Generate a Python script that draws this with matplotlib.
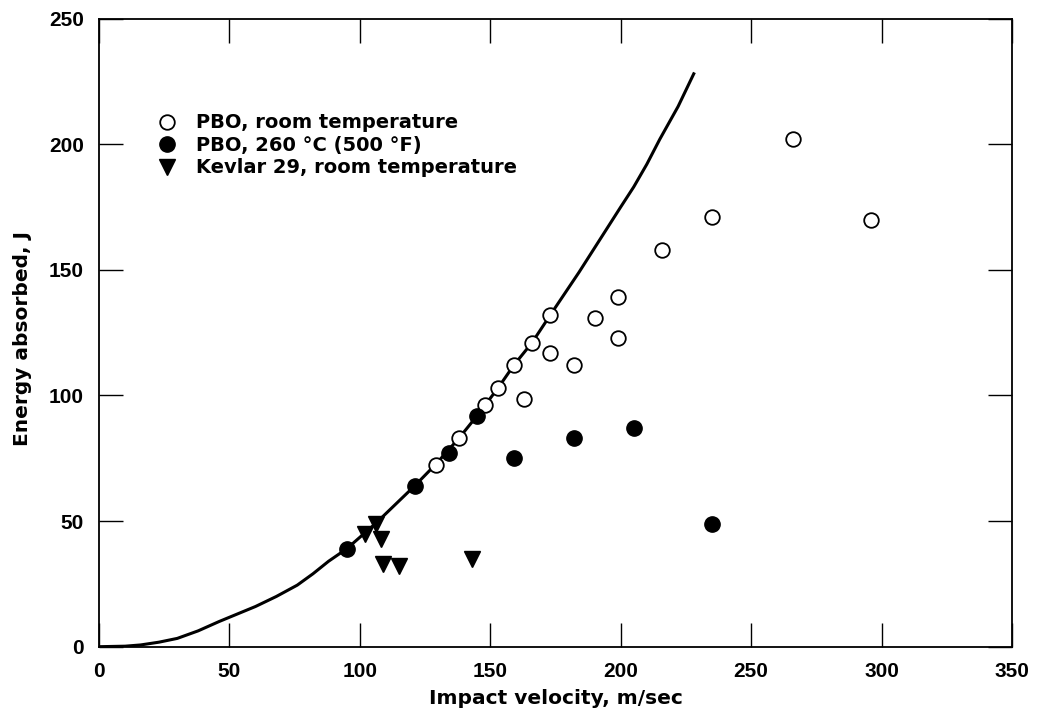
import matplotlib
matplotlib.use("Agg")
import matplotlib.pyplot as plt

plt.rcParams["font.family"] = ["DejaVu Sans"]

# fitted curve
curve_v = [0, 10, 16, 23, 30, 38, 46, 53, 60, 68, 76, 82, 88, 95, 106, 121, 129,
           138, 145, 153, 159, 166, 173, 184, 192, 200, 205, 210, 215, 222, 228]
curve_e = [0, 0.2, 0.7, 1.8, 3.3, 6.3, 10, 13, 16, 20, 24.5, 29, 34, 39, 49,
           64, 72.5, 83, 92, 103, 112, 121, 132, 149, 162, 175, 183, 192, 202, 215, 228]

# PBO, room temperature
pbo_rt_v = [129, 138, 148, 153, 159, 163, 166, 173, 173, 182, 190, 199, 199,
            216, 235, 266, 296]
pbo_rt_e = [72.5, 83, 96, 103, 112, 98.5, 121, 132, 117, 112, 131, 139, 123,
            158, 171, 202, 170]

# PBO, 260 C
pbo_hot_v = [95, 121, 134, 145, 159, 182, 205, 235]
pbo_hot_e = [39, 64, 77, 92, 75, 83, 87, 49]

# Kevlar 29, room temperature
kev_v = [102, 106, 108, 109, 115, 143]
kev_e = [45, 49, 43, 33, 32, 35]

fig = plt.figure(figsize=(10.39, 7.13), dpi=100)
ax = fig.add_axes([0.0953, 0.093, 0.8787, 0.881])

ax.plot(curve_v, curve_e, "-", color="black", lw=2.2, zorder=1,
        solid_joinstyle="round")
ax.plot(pbo_rt_v, pbo_rt_e, "o", ms=10.5, mfc="white", mec="black", mew=1.3,
        ls="none", label="PBO, room temperature", zorder=3)
ax.plot(pbo_hot_v, pbo_hot_e, "o", ms=11, mfc="black", mec="black",
        ls="none", label="PBO, 260 °C (500 °F)", zorder=3)
ax.plot(kev_v, kev_e, "v", ms=11, mfc="black", mec="black",
        ls="none", label="Kevlar 29, room temperature", zorder=3)

ax.set_xlim(0, 350)
ax.set_ylim(0, 250)
ax.set_xticks(range(0, 351, 50))
ax.set_yticks(range(0, 251, 50))
ax.tick_params(direction="in", length=17, width=1, top=True, right=True)
ax.tick_params(axis="x", pad=11)
ax.tick_params(axis="y", pad=11)
for lab in ax.get_xticklabels() + ax.get_yticklabels():
    lab.set_family(["Liberation Sans", "DejaVu Sans"])
    lab.set_fontweight("bold")
    lab.set_fontsize(15)
for s in ax.spines.values():
    s.set_linewidth(1.3)

ax.set_xlabel("Impact velocity, m/sec", fontsize=14.5, fontweight="bold", labelpad=6)
ax.set_ylabel("Energy absorbed, J", fontsize=14.5, fontweight="bold")
ax.yaxis.set_label_coords(-0.073, 0.49)

ax.legend(loc="upper left", bbox_to_anchor=(0.062, 0.849), frameon=False,
          handletextpad=0.9, labelspacing=0.18, borderpad=0, borderaxespad=0,
          handlelength=1.2, prop={"weight": "bold", "size": 14})

fig.savefig("out.png", dpi=100)
